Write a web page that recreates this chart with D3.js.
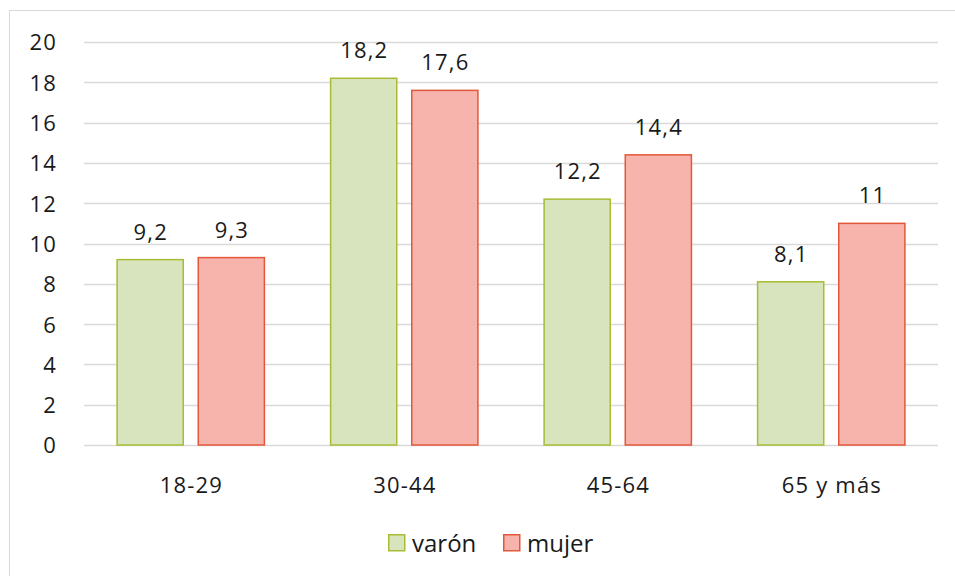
<!DOCTYPE html>
<html>
<head>
<meta charset="utf-8">
<script src="https://d3js.org/d3.v7.min.js"></script>
<style>
  body { margin: 0; background: #fff; }
  svg text { font-family: "Open Sans", sans-serif; fill: #1a1a1a; }
  .num { font-size: 22px; letter-spacing: 1.2px; }
</style>
</head>
<body>
<div id="chart"></div>
<script>
// data
var categories = ["18-29", "30-44", "45-64", "65 y más"];
var series = ["varón", "mujer"];
var varon = [9.2, 18.2, 12.2, 8.1];
var mujer = [9.3, 17.6, 14.4, 11];
var yTicks = [0, 2, 4, 6, 8, 10, 12, 14, 16, 18, 20];

var fills = { "varón": "#d7e4bd", "mujer": "#f7b4ad" };
var strokes = { "varón": "#a8bd34", "mujer": "#e3573a" };

var W = 955, H = 576;
var margin = {top: 42, right: 17, bottom: 131, left: 84};
var width = W - margin.left - margin.right,
    height = H - margin.top - margin.bottom;

var svg = d3.select("#chart").append("svg")
  .attr("width", W).attr("height", H);

// outer chart border
svg.append("rect")
  .attr("x", 9.5).attr("y", 10.5)
  .attr("width", W).attr("height", H)
  .attr("fill", "none").attr("stroke", "#d9d9d9");

var g = svg.append("g")
  .attr("transform", "translate(" + margin.left + "," + margin.top + ")");

var x0 = d3.scaleBand().domain(categories).range([0, width])
  .paddingInner(0.31).paddingOuter(0.155);
var x1 = d3.scaleBand().domain(series).range([0, x0.bandwidth()])
  .paddingInner(0.185);
var y = d3.scaleLinear().domain([0, 20]).range([height, 0]);

// gridlines
g.selectAll(".grid").data(yTicks).enter().append("line")
  .attr("x1", 0).attr("x2", width)
  .attr("y1", function(d) { return Math.round(y(d)) + 0.5; })
  .attr("y2", function(d) { return Math.round(y(d)) + 0.5; })
  .attr("stroke", "#d9d9d9").attr("stroke-width", 1.5);

// y axis labels
var yAxis = g.append("g")
  .attr("transform", "translate(-27,0)")
  .call(d3.axisLeft(y).tickValues(yTicks).tickSize(0).tickPadding(0));
yAxis.select(".domain").remove();
yAxis.selectAll("text")
  .attr("class", "num")
  .attr("dy", "0.36em")
  .style("font-family", "'Open Sans', sans-serif")
  .attr("fill", "#1a1a1a");

// x axis labels
var xAxis = g.append("g")
  .attr("transform", "translate(0," + height + ")")
  .call(d3.axisBottom(x0).tickSize(0).tickPadding(0));
xAxis.select(".domain").remove();
xAxis.selectAll("text")
  .attr("class", "num")
  .attr("y", 48).attr("dy", 0).attr("dx", 0.6)
  .style("font-family", "'Open Sans', sans-serif")
  .attr("fill", "#1a1a1a");

var rows = categories.map(function(c, i) {
  return { cat: c, vals: [
    {s: "varón", v: varon[i]},
    {s: "mujer", v: mujer[i]}
  ]};
});

var groups = g.selectAll(".grp").data(rows).enter().append("g")
  .attr("transform", function(d) { return "translate(" + x0(d.cat) + ",0)"; });

groups.selectAll("rect").data(function(d) { return d.vals; }).enter().append("rect")
  .attr("x", function(d) { return x1(d.s); })
  .attr("y", function(d) { return y(d.v); })
  .attr("width", x1.bandwidth())
  .attr("height", function(d) { return height - y(d.v); })
  .attr("fill", function(d) { return fills[d.s]; })
  .attr("stroke", function(d) { return strokes[d.s]; })
  .attr("stroke-width", 1.5);

// value labels
var fmt = function(v) { return String(v).replace(".", ","); };
groups.selectAll(".lbl").data(function(d) { return d.vals; }).enter().append("text")
  .attr("class", "num")
  .attr("x", function(d) { return x1(d.s) + x1.bandwidth() / 2 + 0.6; })
  .attr("y", function(d) { return y(d.v) - 20; })
  .attr("text-anchor", "middle")
  .text(function(d) { return fmt(d.v); });

// legend
var legend = svg.append("g").attr("transform", "translate(388,534)");
var li = legend.selectAll(".li").data(series).enter().append("g")
  .attr("transform", function(d, i) { return "translate(" + (i * 115) + ",0)"; });
li.append("rect")
  .attr("x", 0.75).attr("y", 0.75).attr("width", 16).attr("height", 16)
  .attr("fill", function(d) { return fills[d]; })
  .attr("stroke", function(d) { return strokes[d]; })
  .attr("stroke-width", 1.5);
li.append("text")
  .attr("x", 24).attr("y", 18)
  .style("font-size", "24px")
  .text(function(d) { return d; });
</script>
</body>
</html>
